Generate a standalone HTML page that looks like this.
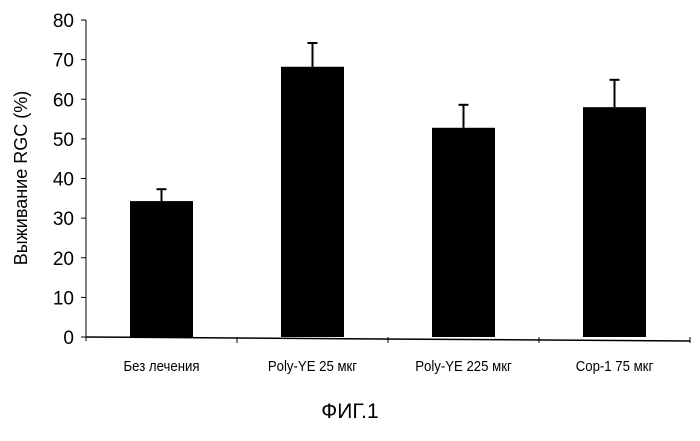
<!DOCTYPE html>
<html><head><meta charset="utf-8"><style>
body{margin:0;background:#fff}
svg text{font-family:"Liberation Sans",sans-serif;fill:#000}
</style></head><body>
<svg width="700" height="436" id="c">
<text transform="translate(27,178) rotate(-90)" text-anchor="middle" font-size="18">Выживание RGC (%)</text>
<text x="350" y="418" text-anchor="middle" font-size="21">ФИГ.1</text>
</svg>
<script>
const categories=["Без лечения","Poly-YE 25 мкг","Poly-YE 225 мкг","Cop-1 75 мкг"];
const values=[34.3,68.2,52.8,58.0];
const errors=[3.0,6.0,5.8,6.9];
const yTicks=[0,10,20,30,40,50,60,70,80];
const svg=document.getElementById('c');const NS='http://www.w3.org/2000/svg';
const x0=86,x1=690,y0=337,yTop=20,ymax=80;
const y=v=>y0-(v/ymax)*(y0-yTop);
const bw=(x1-x0)/categories.length;
const xc=i=>x0+bw*(i+0.5);
function mk(t,a){const e=document.createElementNS(NS,t);for(const k in a)e.setAttribute(k,a[k]);svg.appendChild(e);return e;}
let e=mk('line',{x1:x0,y1:yTop,x2:x0,y2:y0+4,stroke:'#000','stroke-width':1});


e=mk('line',{x1:x0,y1:y0,x2:x1,y2:y0+4,stroke:'#000','stroke-width':1.5});


yTicks.forEach(v=>{
 let t=mk('line',{x1:x0-5,y1:y(v),x2:x0,y2:y(v),stroke:'#000'});
 
 
 let l=mk('text',{x:74,y:y(v)+7,'text-anchor':'end','font-size':19});
 l.textContent=v;
 
 
});
for(let i=1;i<=categories.length;i++){
 let t=mk('line',{x1:x0+bw*i,y1:y0,x2:x0+bw*i,y2:y0+6,stroke:'#000'});
 
 
}
categories.forEach((c,i)=>{
 const cx=xc(i),w=63;
 let b=mk('rect',{x:cx-w/2,y:y(values[i]),width:w,height:y0-y(values[i]),fill:'#000'});
 
 
 let el=mk('line',{x1:cx,y1:y(values[i]),x2:cx,y2:y(values[i]+errors[i]),stroke:'#000','stroke-width':2});
 
 
 let cap=mk('line',{x1:cx-5,y1:y(values[i]+errors[i]),x2:cx+5,y2:y(values[i]+errors[i]),stroke:'#000','stroke-width':2});
 
 
 let l=mk('text',{x:cx,y:371,'text-anchor':'middle','font-size':15,transform:`translate(${cx},0) scale(0.88,1) translate(${-cx},0)`});
 l.textContent=c;
 
 
});
</script>
</body></html>
